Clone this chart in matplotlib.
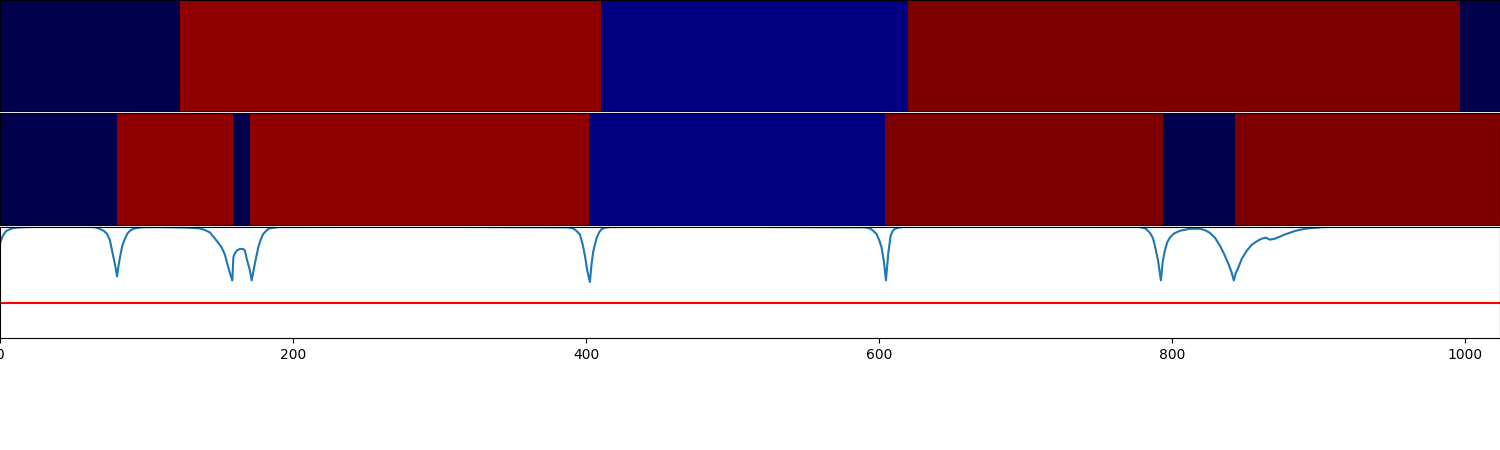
import numpy as np
import matplotlib
matplotlib.use("Agg")
import matplotlib.pyplot as plt
from matplotlib.colors import ListedColormap

# segment boundaries (sample index) and state labels for the two bars
n_samples = 1024
top_bounds = [0, 123, 410, 620, 997, 1024]
top_labels = [0, 2, 1, 3, 0]
mid_bounds = [0, 80, 159, 171, 402, 604, 794, 843, 1024]
mid_labels = [0, 2, 0, 2, 1, 3, 0, 3]
state_colors = ["#00004c", "#000080", "#910000", "#7f0000"]

# score curve
curve_x = [0, 1, 2, 4, 7, 10, 14, 20, 30, 60, 65, 68.3, 71, 73, 75, 76.5, 78.5, 79.9,
           80.8, 81.9, 83.5, 85.3, 87, 88.7, 91, 95.6, 100,
           110, 125, 131.7, 136.5, 140, 143.3, 147.9, 151.3, 153.5, 155.8, 157.5, 158.6,
           159.3, 160.3, 161.6, 163.8, 166, 167.2, 168.4, 170.6, 171.8, 173, 174, 176.3,
           178, 179.7, 182, 184.3, 191,
           300, 388, 391.3, 393.5, 395.9, 397.7, 399.3, 401, 402.7, 403.8, 405, 407.3,
           409, 410.7, 413, 416.4,
           500, 590, 593.9, 596, 598.4, 600.2, 601.8, 603.5, 604.8, 605.6, 606.4, 608,
           609.5, 610.9, 613, 616.6,
           700, 778.2, 782, 785, 787, 788.4, 790.5, 792.5, 793.7, 795.2, 796.8, 798.6,
           801.5, 805.5, 812.3, 819.1, 822.5, 825.9, 829.5, 832.8, 835.5, 838.2, 840.5,
           842.3, 843.5, 845.1, 847.8, 851.2, 854.6, 858.7, 861.4, 864.2,
           866.9, 870.3, 873.7, 877, 880.5, 884, 887.4, 892, 897.6, 902, 907.8, 1023]
curve_y = [0.85, 0.89, 0.92, 0.96, 0.98, 0.99, 0.995, 0.998, 1.0, 1.0, 0.995, 0.98, 0.962,
           0.9375, 0.88, 0.786, 0.66, 0.554,
           0.64, 0.726, 0.83, 0.893, 0.94, 0.964, 0.982, 0.994, 0.997,
           0.997, 0.994, 0.99, 0.985, 0.97, 0.949, 0.875, 0.815, 0.75, 0.637, 0.56, 0.518,
           0.726, 0.76, 0.786, 0.801, 0.8, 0.786, 0.714, 0.607, 0.518, 0.6, 0.67, 0.815,
           0.885, 0.935, 0.968, 0.988, 0.998,
           0.999, 0.995, 0.985, 0.964, 0.93, 0.845, 0.74, 0.6, 0.503, 0.66, 0.78, 0.9,
           0.95, 0.978, 0.992, 0.998,
           0.999, 0.995, 0.985, 0.965, 0.935, 0.88, 0.815, 0.68, 0.518, 0.64, 0.76, 0.92,
           0.965, 0.98, 0.992, 0.998,
           0.999, 0.998, 0.985, 0.946, 0.9, 0.83, 0.7, 0.518, 0.68, 0.786, 0.86, 0.902,
           0.94, 0.964, 0.982, 0.982, 0.97, 0.946, 0.9, 0.83, 0.76, 0.679, 0.6,
           0.518, 0.58, 0.625, 0.714, 0.786, 0.839, 0.875, 0.893, 0.902,
           0.884, 0.893, 0.911, 0.93, 0.946, 0.962, 0.973, 0.984, 0.991, 0.996, 0.999, 0.999]
threshold = 0.31


def expand(bounds, labels):
    row = np.zeros(n_samples, dtype=int)
    for i in range(len(labels)):
        row[bounds[i]:bounds[i + 1]] = labels[i]
    return row[np.newaxis, :]


cmap = ListedColormap(state_colors)
fig, axes = plt.subplots(3, 1, figsize=(15, 4.5), dpi=100, sharex=True)
fig.subplots_adjust(left=0, right=1, top=1, bottom=0.249, hspace=0.02)

for ax, row in zip(axes[:2], [expand(top_bounds, top_labels), expand(mid_bounds, mid_labels)]):
    ax.imshow(row, aspect="auto", cmap=cmap, vmin=-0.5, vmax=3.5,
              interpolation="nearest", extent=(0, n_samples, 0, 1))
    ax.tick_params(axis="x", bottom=False, labelbottom=False)
    ax.set_yticks([])

ax = axes[2]
ax.plot(curve_x, curve_y, color="C0", linewidth=1.5)
ax.axhline(threshold, color="red", linewidth=1.5)
ax.set_ylim(0, 1)
ax.set_xlim(0, n_samples)
ax.set_yticks([])
ax.set_xticks([0, 200, 400, 600, 800, 1000])
ax.tick_params(axis="x", labelsize=10)

fig.savefig("out.png", dpi=100)
